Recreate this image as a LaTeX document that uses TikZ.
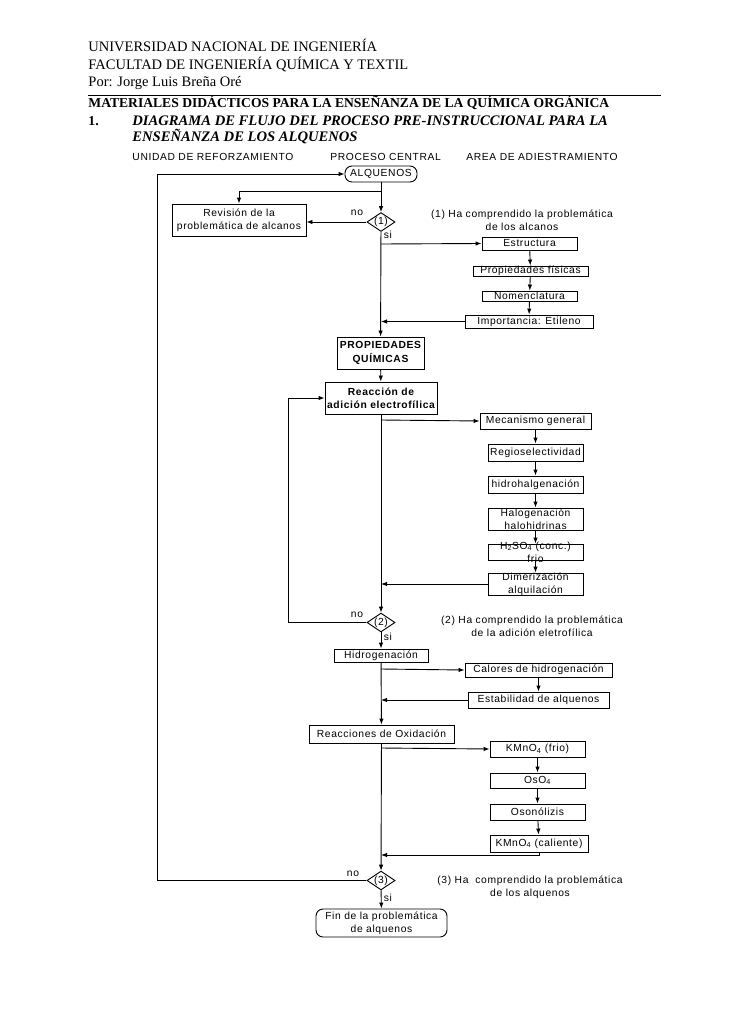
\documentclass[tikz,border=0pt]{standalone}
\usepackage{fontspec}
\setmainfont{Liberation Serif}
\newfontfamily\diafont[LetterSpace=6]{Liberation Sans}
\usetikzlibrary{arrows.meta,shapes.geometric,positioning}
\newcommand{\cabecera}{\fontsize{14.5}{17}\selectfont}
\newcommand{\cabnegra}{\fontsize{13.6}{17}\selectfont\bfseries}
\newcommand{\cabcursiva}{\fontsize{14.6}{17}\selectfont\bfseries\itshape}
\newcommand{\diatexto}{\diafont\fontsize{10.3}{13.3}\selectfont}

\begin{document}
\begin{tikzpicture}
	[
		x				= 1pt,
		y				= -1pt,
		line width		= 0.9pt,
		texto/.style	=
		{
			inner sep		= 0pt,
			anchor			= base west
		},
		cabe/.style		=
		{
			texto,
			font			= \cabecera
		},
		rotulo/.style	=
		{
			inner sep		= 0pt,
			align			= center,
			font			= \diatexto
		},
		caja/.style		=
		{
			draw,
			rectangle,
			inner sep		= 0pt,
			align			= center,
			font			= \diatexto
		},
		inicio/.style	=
		{
			caja,
			rounded corners	= 7pt
		},
		rombo/.style	=
		{
			draw,
			diamond,
			aspect			= 1.5,
			inner sep		= 0pt,
			font			= \diatexto
		},
		flecha/.style	=
		{
			-{Latex[length=6pt,width=4.5pt]}
		}
	]
		%
		\useasboundingbox (0,0) rectangle (728,1030);
		%
		% cabecera
		\node[cabe] (uni) at (88,52) {UNIVERSIDAD NACIONAL DE INGENIERÍA};
		\node[cabe] (fac) at (88,69.5) {FACULTAD DE INGENIERÍA QUÍMICA Y TEXTIL};
		\node[cabe] (por) at (88,87) {Por: Jorge Luis Breña Oré};
		\draw (88,95.5) -- (661,95.5);
		\node[cabe, font=\cabnegra] (mat) at (88,108) {MATERIALES DIDÁCTICOS PARA LA ENSEÑANZA DE LA QUÍMICA ORGÁNICA};
		\node[cabe, font=\cabnegra] (num) at (88,125) {1.};
		\node[cabe, font=\cabcursiva] (tit1) at (132,125) {DIAGRAMA DE FLUJO DEL PROCESO PRE-INSTRUCCIONAL PARA LA};
		\node[cabe, font=\cabcursiva] (tit2) at (132,141.5) {ENSEÑANZA DE LOS ALQUENOS};
		%
		% columnas
		\node[texto, font=\diatexto] (col1) at (132,160) {UNIDAD DE REFORZAMIENTO};
		\node[texto, font=\diatexto] (col2) at (330,160) {PROCESO CENTRAL};
		\node[texto, font=\diatexto] (col3) at (466,160) {AREA DE ADIESTRAMIENTO};
		%
		% proceso central
		\node[inicio, minimum width=72, minimum height=16] (alq) at (381,174) {ALQUENOS};
		\node[rombo] (d1) at (381,222) {(1)};
		\node[caja, minimum width=134, minimum height=32] (rev) at (239,220) {Revisión de la\\problemática de alcanos};
		\node[caja, minimum width=87, minimum height=32, font=\diatexto\bfseries] (pq) at (380.5,353) {PROPIEDADES\\QUÍMICAS};
		\node[caja, minimum width=112, minimum height=32, font=\diatexto\bfseries] (rae) at (381,398) {Reacción de\\adición electrofílica};
		\node[rombo] (d2) at (381,622.5) {(2)};
		\node[caja, minimum width=94, minimum height=13] (hidg) at (381,655.5) {Hidrogenación};
		\node[caja, minimum width=145, minimum height=18] (rox) at (381.5,734) {Reacciones de Oxidación};
		\node[rombo] (d3) at (381,880.5) {(3)};
		\node[inicio, minimum width=131, minimum height=28] (fin) at (381.5,923) {Fin de la problemática\\de alquenos};
		%
		% area de adiestramiento
		\node[caja, minimum width=95, minimum height=13] (est) at (529.5,243.5) {Estructura};
		\node[caja, minimum width=115, minimum height=10] (pf) at (530.5,271) {Propiedades físicas};
		\node[caja, minimum width=95, minimum height=10] (nom) at (529.5,296) {Nomenclatura};
		\node[caja, minimum width=128, minimum height=13] (imp) at (529,321.5) {Importancia: Etileno};
		\node[caja, minimum width=111, minimum height=16] (mec) at (535.5,421) {Mecanismo general};
		\node[caja, minimum width=95, minimum height=17] (reg) at (535.5,452.5) {Regioselectividad};
		\node[caja, minimum width=95, minimum height=17] (hid) at (535.5,484.5) {hidrohalgenación};
		\node[caja, minimum width=95, minimum height=22, inner ysep=-2pt] (hal) at (535.5,519) {Halogenación\\halohidrinas};
		\node[caja, minimum width=95, minimum height=16, inner ysep=-5pt] (hso) at (535.5,552) {H\textsubscript{2}SO\textsubscript{4} (conc.)\\frio};
		\node[caja, minimum width=95, minimum height=22, inner ysep=-2pt] (dim) at (535.5,584) {Dimerización\\alquilación};
		\node[caja, minimum width=147, minimum height=14] (cal) at (538.5,670) {Calores de hidrogenación};
		\node[caja, minimum width=141, minimum height=16] (esta) at (538.5,700) {Estabilidad de alquenos};
		\node[caja, minimum width=95, minimum height=16] (km1) at (537.5,749) {KMnO\textsubscript{4} (frio)};
		\node[caja, minimum width=95, minimum height=15] (oso) at (537.5,780.5) {OsO\textsubscript{4}};
		\node[caja, minimum width=95, minimum height=16] (ozo) at (537.5,812) {Osonólizis};
		\node[caja, minimum width=98, minimum height=17] (km2) at (539,843.5) {KMnO\textsubscript{4} (caliente)};
		%
		% rotulos
		\node[rotulo] (no1) at (357,213) {no};
		\node[rotulo] (si1) at (388,235) {si};
		\node[rotulo] (no2) at (357,615) {no};
		\node[rotulo] (si2) at (388,637) {si};
		\node[rotulo] (no3) at (353,874) {no};
		\node[rotulo] (si3) at (388,898) {si};
		\node[rotulo] (nota1) at (522,220) {(1) Ha comprendido la problemática\\de los alcanos};
		\node[rotulo] (nota2) at (532,626) {(2) Ha comprendido la problemática\\de la adición eletrofílica};
		\node[rotulo] (nota3) at (530,887) {(3) Ha\ \ comprendido la problemática\\de los alquenos};
		%
		% puntos de paso
		\coordinate (b1) at (381,191);
		\coordinate (b2) at (381,244);
		\coordinate (b3) at (381,420);
		\coordinate (b4) at (381,669);
		\coordinate (b5) at (381,748);
		\coordinate (k2) at (381,855);
		\coordinate (r1) at (157,880.5);
		\coordinate (r2) at (288,622.5);
		%
		% conectores del proceso central
		\draw[flecha] (alq) -- (d1);
		\draw[flecha] (b1) -| (rev.north);
		\draw[flecha] (d1.west) -- (d1.west -| rev.east);
		\draw[flecha] (d1) -- (pq);
		\draw[flecha] (pq) -- (rae);
		\draw[flecha] (rae) -- (d2);
		\draw[flecha] (d2) -- (hidg);
		\draw[flecha] (hidg) -- (rox);
		\draw[flecha] (rox) -- (d3);
		\draw[flecha] (d3) -- (fin);
		%
		% retornos
		\draw[flecha] (d2.west) -- (r2) |- (rae.west);
		\draw[flecha] (d3.west) -- (r1) |- (alq.west);
		%
		% ramas hacia el area de adiestramiento
		\draw[flecha] (b2) -- (est.west);
		\draw[flecha] (est) -- (pf);
		\draw[flecha] (pf) -- (nom);
		\draw[flecha] (nom) -- (imp);
		\draw[flecha] (imp.west) -- (imp.west -| d1.south);
		%
		\draw[flecha] (b3) -- (mec.west);
		\draw[flecha] (mec) -- (reg);
		\draw[flecha] (reg) -- (hid);
		\draw[flecha] (hid) -- (hal);
		\draw[flecha] (hal) -- (hso);
		\draw[flecha] (hso) -- (dim);
		\draw[flecha] (dim.west) -- (dim.west -| rae.south);
		%
		\draw[flecha] (b4) -- (cal.west);
		\draw[flecha] (cal) -- (esta);
		\draw[flecha] (esta.west) -- (esta.west -| hidg.south);
		%
		\draw[flecha] (b5) -- (km1.west);
		\draw[flecha] (km1) -- (oso);
		\draw[flecha] (oso) -- (ozo);
		\draw[flecha] (ozo) -- (km2);
		\draw[flecha] (km2.south) |- (k2);
		%
	\end{tikzpicture}
\end{document}
